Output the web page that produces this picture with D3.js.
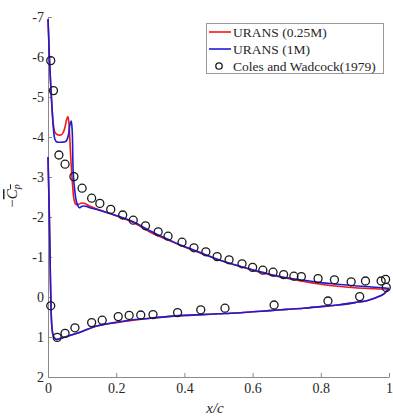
<!DOCTYPE html>
<html>
<head>
<meta charset="utf-8">
<script src="https://cdn.jsdelivr.net/npm/d3@7"></script>
<style>
html,body{margin:0;padding:0;background:#fff;}
svg{display:block;}
</style>
</head>
<body>
<script>
// ---- data ----
const xTicks = [0, 0.2, 0.4, 0.6, 0.8, 1];
const xTickLabels = ["0", "0.2", "0.4", "0.6", "0.8", "1"];
const yTicks = [-7, -6, -5, -4, -3, -2, -1, 0, 1, 2];
const yTickLabels = ["-7", "-6", "-5", "-4", "-3", "-2", "-1", "0", "1", "2"];
const seriesNames = ["URANS (0.25M)", "URANS (1M)", "Coles and Wadcock(1979)"];

// URANS 0.25M, upper surface
const red025UpperX = [0, 0.002, 0.004, 0.008, 0.012, 0.016, 0.02, 0.025, 0.03, 0.04, 0.045, 0.05, 0.054, 0.058, 0.061, 0.064, 0.068, 0.072, 0.076, 0.08, 0.085, 0.09, 0.1, 0.11, 0.12, 0.15, 0.2, 0.25, 0.3, 0.35, 0.4, 0.45, 0.5, 0.55, 0.6, 0.65, 0.7, 0.75, 0.8, 0.85, 0.9, 0.95, 0.98, 1.0];
const red025UpperCp = [-6.95, -6.5, -6.0, -5.3, -4.7, -4.3, -4.12, -4.07, -4.05, -4.06, -4.12, -4.25, -4.42, -4.51, -4.38, -3.95, -3.3, -2.8, -2.45, -2.33, -2.3, -2.32, -2.35, -2.33, -2.28, -2.18, -2.03, -1.86, -1.62, -1.43, -1.25, -1.09, -0.93, -0.8, -0.67, -0.56, -0.47, -0.39, -0.32, -0.27, -0.23, -0.21, -0.2, -0.2];
// URANS 0.25M, lower surface
const red025LowerX = [0, 0.004, 0.007, 0.009, 0.011, 0.014, 0.018, 0.024, 0.035, 0.05, 0.068, 0.1, 0.146, 0.2, 0.25, 0.3, 0.35, 0.4, 0.45, 0.5, 0.55, 0.6, 0.65, 0.7, 0.75, 0.8, 0.85, 0.9, 0.94, 0.97, 0.985, 1.0];
const red025LowerCp = [-3.5, -2.0, -0.5, 0.3, 0.7, 0.92, 1.02, 1.06, 1.04, 1.0, 0.95, 0.86, 0.72, 0.64, 0.58, 0.53, 0.49, 0.46, 0.44, 0.42, 0.4, 0.37, 0.34, 0.31, 0.28, 0.24, 0.2, 0.14, 0.08, -0.01, -0.08, -0.2];

// URANS 1M, upper surface
const blue1MUpperX = [0, 0.002, 0.004, 0.008, 0.012, 0.016, 0.02, 0.025, 0.03, 0.04, 0.05, 0.055, 0.06, 0.064, 0.068, 0.071, 0.074, 0.078, 0.083, 0.088, 0.092, 0.1, 0.11, 0.12, 0.15, 0.2, 0.25, 0.3, 0.35, 0.4, 0.45, 0.5, 0.55, 0.6, 0.65, 0.7, 0.75, 0.8, 0.85, 0.9, 0.95, 0.98, 1.0];
const blue1MUpperCp = [-6.95, -6.5, -6.0, -5.3, -4.7, -4.2, -3.95, -3.88, -3.87, -3.87, -3.88, -3.92, -4.05, -4.3, -4.4, -4.15, -3.1, -2.7, -2.4, -2.28, -2.23, -2.27, -2.27, -2.24, -2.17, -2.04, -1.88, -1.65, -1.45, -1.26, -1.1, -0.93, -0.8, -0.68, -0.57, -0.48, -0.42, -0.36, -0.32, -0.28, -0.25, -0.23, -0.21];
// URANS 1M, lower surface
const blue1MLowerX = [0, 0.004, 0.007, 0.009, 0.011, 0.014, 0.018, 0.024, 0.035, 0.05, 0.068, 0.1, 0.146, 0.2, 0.25, 0.3, 0.35, 0.4, 0.45, 0.5, 0.55, 0.6, 0.65, 0.7, 0.75, 0.8, 0.85, 0.9, 0.94, 0.97, 0.985, 1.0];
const blue1MLowerCp = [-3.5, -2.0, -0.5, 0.3, 0.7, 0.92, 1.02, 1.06, 1.04, 1.0, 0.95, 0.86, 0.72, 0.63, 0.57, 0.53, 0.49, 0.46, 0.44, 0.42, 0.4, 0.37, 0.34, 0.31, 0.28, 0.24, 0.2, 0.14, 0.08, -0.01, -0.08, -0.21];

// Coles and Wadcock (1979) experiment
const expX = [0.008, 0.016, 0.032, 0.05, 0.076, 0.10, 0.128, 0.152, 0.184, 0.219, 0.25, 0.286, 0.323, 0.352, 0.393, 0.428, 0.463, 0.496, 0.531, 0.569, 0.60, 0.63, 0.66, 0.691, 0.721, 0.743, 0.792, 0.84, 0.889, 0.931, 0.977, 0.99, 0.992,
  0.914, 0.821, 0.663, 0.519, 0.448, 0.38, 0.308, 0.272, 0.238, 0.206, 0.159, 0.128, 0.079, 0.05, 0.027, 0.008];
const expCp = [-5.91, -5.16, -3.55, -3.32, -3.01, -2.72, -2.47, -2.34, -2.19, -2.05, -1.92, -1.78, -1.63, -1.52, -1.37, -1.23, -1.13, -1.01, -0.93, -0.83, -0.74, -0.67, -0.62, -0.56, -0.52, -0.51, -0.46, -0.43, -0.38, -0.40, -0.40, -0.44, -0.24,
  -0.01, 0.10, 0.2, 0.28, 0.32, 0.39, 0.44, 0.45, 0.46, 0.49, 0.58, 0.64, 0.77, 0.91, 1.01, 0.22];

// ---- drawing ----
const W = 393, H = 419;
const svg = d3.select("body").append("svg").attr("width", W).attr("height", H);
const font = "'Liberation Serif', 'Times New Roman', serif";

const x = d3.scaleLinear().domain([0, 1]).range([48, 389]);
const y = d3.scaleLinear().domain([-7, 2]).range([17, 377]);

const axisColor = "#8a8a8a";
const textColor = "#262626";

const xAxis = svg.append("g").attr("transform", `translate(0,${y(2)})`)
  .call(d3.axisBottom(x).tickValues(xTicks).tickFormat((d, i) => xTickLabels[i]).tickSizeInner(-4).tickSizeOuter(0).tickPadding(6));
const yAxis = svg.append("g").attr("transform", `translate(${x(0)},0)`)
  .call(d3.axisLeft(y).tickValues(yTicks).tickFormat((d, i) => yTickLabels[i]).tickSizeInner(-4).tickSizeOuter(0).tickPadding(4));
[xAxis, yAxis].forEach(g => {
  g.attr("font-family", font).attr("font-size", 14);
  g.select(".domain").attr("stroke", axisColor).attr("stroke-width", 1);
  g.selectAll(".tick line").attr("stroke", axisColor);
  g.selectAll(".tick text").attr("fill", textColor).attr("font-family", font).style("font-family", font).style("font-size", "14px");
});

const lineLE = d3.line().x(d => x(d[0])).y(d => y(d[1])).curve(d3.curveCatmullRom.alpha(0.5));
const zip = (a, b) => a.map((v, i) => [v, b[i]]);

const red = "#f01818", blue = "#1c1cd8";
function drawSeries(ux, uc, lx, lc, color) {
  svg.append("path").datum(zip(ux, uc)).attr("d", lineLE)
    .attr("fill", "none").attr("stroke", color).attr("stroke-width", 1.6).attr("stroke-linejoin", "round");
  svg.append("path").datum(zip(lx, lc)).attr("d", lineLE)
    .attr("fill", "none").attr("stroke", color).attr("stroke-width", 1.6).attr("stroke-linejoin", "round");
}
drawSeries(red025UpperX, red025UpperCp, red025LowerX, red025LowerCp, red);
drawSeries(blue1MUpperX, blue1MUpperCp, blue1MLowerX, blue1MLowerCp, blue);

svg.append("g").selectAll("circle").data(zip(expX, expCp)).join("circle")
  .attr("cx", d => x(d[0])).attr("cy", d => y(d[1])).attr("r", 4)
  .attr("fill", "none").attr("stroke", "#1a1a1a").attr("stroke-width", 1.3);

// axis labels
svg.append("text").attr("x", 215).attr("y", 413).attr("text-anchor", "middle")
  .style("font-family", font).style("font-size", "15px").style("font-style", "italic").attr("fill", textColor)
  .text("x/c");

const yl = svg.append("text").attr("transform", "translate(17,196) rotate(-90)").attr("text-anchor", "middle")
  .style("font-family", font).style("font-size", "15px").attr("fill", textColor);
yl.append("tspan").text("−");
yl.append("tspan").style("font-style", "italic").style("text-decoration", "overline").text("C");
yl.append("tspan").style("font-style", "italic").style("font-size", "10px").style("text-decoration", "overline").attr("dy", 3).text("p");

// legend
const lg = svg.append("g");
lg.append("rect").attr("x", 206.5).attr("y", 23.5).attr("width", 177).attr("height", 50)
  .attr("fill", "#fff").attr("stroke", "#999").attr("stroke-width", 1);
const legY = [32, 49, 66];
[red, blue].forEach((c, i) => {
  lg.append("line").attr("x1", 209).attr("x2", 231).attr("y1", legY[i]).attr("y2", legY[i])
    .attr("stroke", c).attr("stroke-width", 1.6);
});
lg.append("circle").attr("cx", 219).attr("cy", legY[2]).attr("r", 3.2).attr("fill", "none").attr("stroke", "#1a1a1a").attr("stroke-width", 1.3);
seriesNames.forEach((n, i) => {
  lg.append("text").attr("x", 233).attr("y", legY[i] + 4.5).style("font-family", font).style("font-size", "13.5px")
    .attr("fill", textColor).text(n);
});
</script>
</body>
</html>
